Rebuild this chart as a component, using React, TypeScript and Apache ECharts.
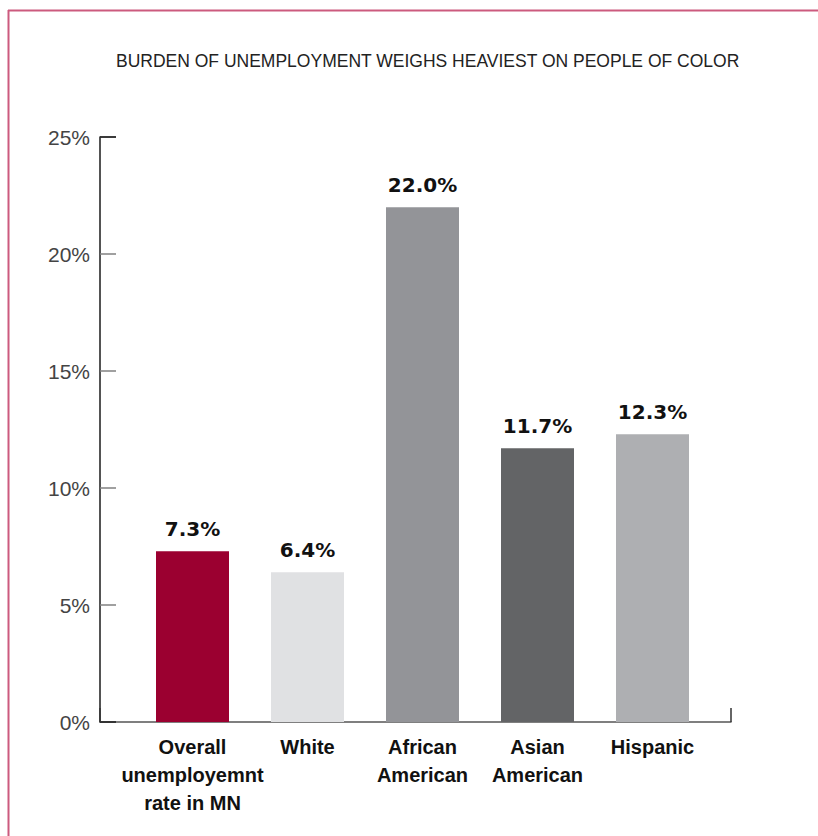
import React, { useEffect, useRef } from "react";
import * as echarts from "echarts";

const title = "BURDEN OF UNEMPLOYMENT WEIGHS HEAVIEST ON PEOPLE OF COLOR";
const categories = [
  "Overall\nunemployemnt\nrate in MN",
  "White",
  "African\nAmerican",
  "Asian\nAmerican",
  "Hispanic",
];
const values = [7.3, 6.4, 22.0, 11.7, 12.3];
const barColors = ["#9b0030", "#e0e1e3", "#939498", "#636466", "#aeafb2"];
const yMin = 0;
const yMax = 25;
const yStep = 5;

export default function App() {
  const ref = useRef<HTMLDivElement>(null);
  useEffect(() => {
    if (!ref.current) return;
    const chart = echarts.init(ref.current, null, { renderer: "svg" });
    const font = "Liberation Sans";
    chart.setOption({
      animation: false,
      backgroundColor: "#ffffff",
      title: {
        text: title,
        left: 111,
        top: 47,
        textStyle: {
          fontFamily: font,
          fontSize: 17.5,
          fontWeight: "normal",
          color: "#222222",
        },
      },
      graphic: [
        {
          type: "line",
          shape: { x1: 8, y1: 10.5, x2: 818, y2: 10.5 },
          style: { stroke: "#cc5a7e", lineWidth: 2 },
        },
        {
          type: "line",
          shape: { x1: 8.5, y1: 10, x2: 8.5, y2: 836 },
          style: { stroke: "#cc5a7e", lineWidth: 2 },
        },
      ],
      grid: [
        { left: 135, right: 108, top: 137, bottom: 114 },
        { left: 100, right: 87, top: 137, bottom: 114 },
      ],
      xAxis: [
        {
          type: "category",
          gridIndex: 0,
          data: categories,
          axisLine: { show: false },
          axisTick: { show: false },
          axisLabel: {
            interval: 0,
            margin: 11,
            fontFamily: font,
            fontSize: 20,
            fontWeight: "bold",
            color: "#111111",
            lineHeight: 28,
          },
        },
        {
          type: "value",
          gridIndex: 1,
          min: 0,
          max: 1,
          interval: 1,
          axisLine: { show: true, lineStyle: { color: "#555555", width: 1.5 } },
          axisTick: { show: true, inside: true, length: 14, lineStyle: { color: "#333333", width: 1.5 } },
          axisLabel: { show: false },
          splitLine: { show: false },
        },
      ],
      yAxis: [
        {
          type: "value",
          gridIndex: 0,
          min: yMin,
          max: yMax,
          interval: yStep,
          offset: 35,
          axisLine: { show: true, lineStyle: { color: "#1a1a1a", width: 1.5 } },
          axisTick: { show: true, inside: true, length: 16, lineStyle: { color: "#808080", width: 1.5 } },
          splitLine: { show: false },
          axisLabel: {
            formatter: "{value}%",
            margin: 10,
            fontFamily: font,
            fontSize: 21,
            color: "#444444",
          },
        },
        {
          type: "value",
          gridIndex: 1,
          min: yMin,
          max: yMax,
          interval: yMax,
          axisLine: { show: false },
          axisTick: { show: true, inside: true, length: 16, lineStyle: { color: "#1a1a1a", width: 1.5 } },
          axisLabel: { show: false },
          splitLine: { show: false },
        },
      ],
      series: [
        {
          type: "bar",
          xAxisIndex: 0,
          yAxisIndex: 0,
          barWidth: 73,
          data: values.map((v, i) => ({ value: v, itemStyle: { color: barColors[i] } })),
          label: {
            show: true,
            position: "top",
            distance: 12,
            formatter: (p: any) => p.value.toFixed(1) + "%",
            fontFamily: "DejaVu Sans",
            fontSize: 20,
            fontWeight: "bold",
            color: "#111111",
          },
        },
      ],
    });
    return () => chart.dispose();
  }, []);
  return (
    <div
      ref={ref}
      style={{ position: "absolute", left: 0, top: 0, width: 818, height: 836 }}
    />
  );
}
